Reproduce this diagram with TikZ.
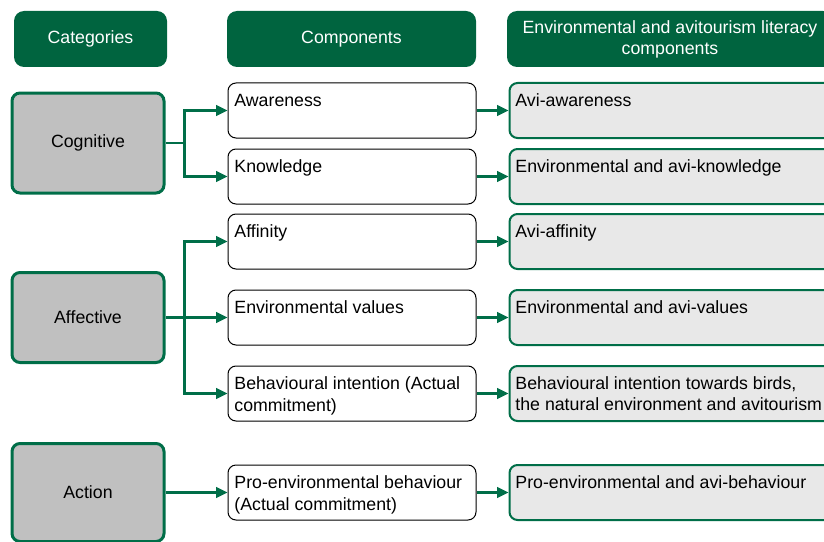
\documentclass[tikz,border=0pt]{standalone}
\usepackage{fontspec}
\setsansfont{Liberation Sans}
\usetikzlibrary{arrows.meta,positioning}
\definecolor{ink}{HTML}{000000}
\definecolor{darkgreen}{HTML}{00643F}
\definecolor{green}{HTML}{006E48}
\definecolor{catfill}{HTML}{C0C0C0}
\definecolor{litfill}{HTML}{E8E8E8}
\newcommand{\bodysize}{\fontsize{13.3}{15.8}\selectfont}
\tikzset{
  every node/.style={font=\sffamily\bodysize},
  header/.style={fill=darkgreen, rounded corners=7.5pt, minimum height=42pt, text=white, align=center, inner sep=0pt},
  catbox/.style={draw=green, line width=2.25pt, fill=catfill, rounded corners=6pt, minimum width=114pt, text=ink},
  compbox/.style={draw=ink, line width=0.75pt, fill=white, rounded corners=6pt, minimum width=186pt, minimum height=41.25pt},
  litbox/.style={draw=green, line width=1.5pt, fill=litfill, rounded corners=6pt, minimum width=249pt, minimum height=41.25pt},
  boxtext/.style={anchor=north west, inner xsep=5pt, inner ysep=8.5pt, align=left, text=ink},
  arrow/.style={-{Triangle[length=8.5pt,width=8pt]}, line width=1.6pt, draw=green},
}
\begin{document}
\begin{tikzpicture}[x=0.75pt, y=-0.75pt, node distance=24pt]
\useasboundingbox (0,0) rectangle (824,542);
% column headers
\node[header, minimum width=114.75pt] (hcat) at (90.5,39) {Categories};
\node[header, minimum width=186.75pt] (hcomp) at (351.5,39) {Components};
\node[header, minimum width=244.5pt] (hlit) at (670,39) {Environmental and avitourism literacy\\components};
% categories
\node[catbox, minimum height=75pt] (cog) at (88,143) {Cognitive};
\node[catbox, minimum height=67.5pt] (aff) at (88,317.5) {Affective};
\node[catbox, minimum height=73.5pt] (act) at (88,492.5) {Action};
% components
\node[compbox, label={[boxtext]north west:Awareness}] (aw) at (352,110.5) {};
\node[compbox, label={[boxtext]north west:Knowledge}] (kn) at (352,176.5) {};
\node[compbox, label={[boxtext]north west:Affinity}] (af) at (352,241.5) {};
\node[compbox, label={[boxtext]north west:Environmental values}] (ev) at (352,317.5) {};
\node[compbox, label={[boxtext]north west:Behavioural intention (Actual\\commitment)}] (bi) at (352,393.5) {};
\node[compbox, label={[boxtext]north west:Pro-environmental behaviour\\(Actual commitment)}] (pb) at (352,492.5) {};
% literacy components
\node[litbox, right=of aw, label={[boxtext]north west:Avi-awareness}] (law) {};
\node[litbox, right=of kn, label={[boxtext]north west:Environmental and avi-knowledge}] (lkn) {};
\node[litbox, right=of af, label={[boxtext]north west:Avi-affinity}] (laf) {};
\node[litbox, right=of ev, label={[boxtext]north west:Environmental and avi-values}] (lev) {};
\node[litbox, right=of bi, label={[boxtext]north west:Behavioural intention towards birds,\\the natural environment and avitourism}] (lbi) {};
\node[litbox, right=of pb, label={[boxtext]north west:Pro-environmental and avi-behaviour}] (lpb) {};
% connectors
\coordinate (cogfork) at ([xshift=14.25pt]cog.east);
\coordinate (afffork) at ([xshift=14.25pt]aff.east);
\draw[arrow] (cog.east) -- (cogfork) |- (aw.west);
\draw[arrow] (cogfork) |- (kn.west);
\draw[arrow] (aff.east) -- (afffork) |- (af.west);
\draw[arrow] (afffork) |- (ev.west);
\draw[arrow] (afffork) |- (bi.west);
\draw[arrow] (act.east) -- (pb.west);
\foreach \a/\b in {aw/law,kn/lkn,af/laf,ev/lev,bi/lbi,pb/lpb}
  \draw[arrow] (\a.east) -- (\b.west);
\end{tikzpicture}
\end{document}
